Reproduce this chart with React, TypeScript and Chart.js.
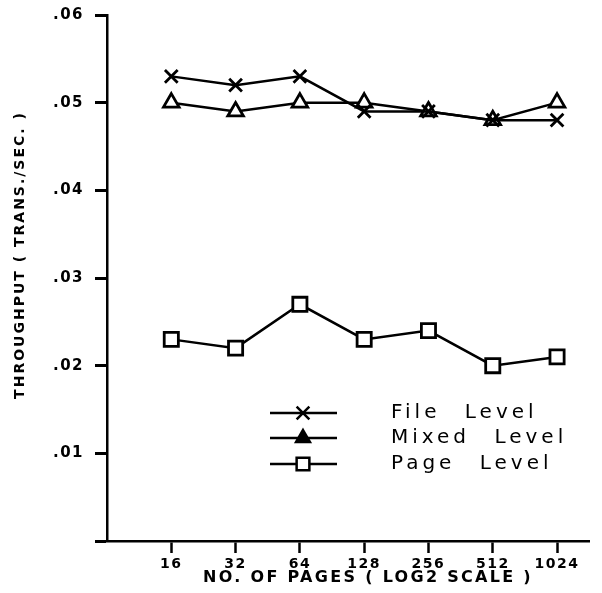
import React, { useEffect, useRef } from 'react';
import { Chart, registerables } from 'chart.js';

Chart.register(...registerables);

const pages = ['16', '32', '64', '128', '256', '512', '1024'];
const fileLevel = [0.053, 0.052, 0.053, 0.049, 0.049, 0.048, 0.048];
const mixedLevel = [0.05, 0.049, 0.05, 0.05, 0.049, 0.048, 0.05];
const pageLevel = [0.023, 0.022, 0.027, 0.023, 0.024, 0.02, 0.021];
const yTickValues = [0, 0.01, 0.02, 0.03, 0.04, 0.05, 0.06];
const seriesNames = ['File Level', 'Mixed Level', 'Page Level'];
const xTitle = 'NO. OF PAGES ( LOG2 SCALE )';
const yTitle = 'THROUGHPUT ( TRANS./SEC. )';

function drawMarker(ctx: CanvasRenderingContext2D, style: string, x: number, y: number, r: number, fill: boolean) {
  ctx.beginPath();
  if (style === 'crossRot') {
    const o = r * Math.SQRT1_2;
    ctx.moveTo(x - o, y - o); ctx.lineTo(x + o, y + o);
    ctx.moveTo(x - o, y + o); ctx.lineTo(x + o, y - o);
    ctx.stroke();
  } else if (style === 'triangle') {
    const h = r * 1.5;
    const w = r * Math.sqrt(3) / 2;
    ctx.moveTo(x, y - r);
    ctx.lineTo(x + w, y - r + h);
    ctx.lineTo(x - w, y - r + h);
    ctx.closePath();
    if (fill) { ctx.fillStyle = '#000'; ctx.fill(); }
    ctx.stroke();
  } else {
    const s = r * Math.SQRT1_2;
    ctx.rect(x - s, y - s, 2 * s, 2 * s);
    ctx.fillStyle = '#fff';
    ctx.fill();
    ctx.stroke();
  }
}

const textPlugin = {
  id: 'textPlugin',
  beforeDraw(chart: any) {
    const ctx = chart.ctx as any;
    ctx.fillStyle = '#fff';
    ctx.fillRect(0, 0, chart.width, chart.height);
    ctx.letterSpacing = '1.5px';
  },
  afterDraw(chart: any) {
    const ctx = chart.ctx as any;
    const area = chart.chartArea;
    ctx.save();
    ctx.fillStyle = '#000';
    ctx.strokeStyle = '#000';
    // axis titles
    ctx.letterSpacing = '2.3px';
    ctx.font = 'bold 16px "DejaVu Sans"';
    ctx.textAlign = 'center';
    ctx.textBaseline = 'middle';
    ctx.fillText(xTitle, area.left + 261, area.bottom + 37);
    ctx.save();
    ctx.translate(20, area.top + 240);
    ctx.rotate(-Math.PI / 2);
    ctx.letterSpacing = '2px';
    ctx.font = 'bold 14px "DejaVu Sans"';
    ctx.fillText(yTitle, 0, 0);
    ctx.restore();
    // legend
    const styles = ['crossRot', 'triangle', 'rect'];
    const radii = [9, 8, 9];
    const rowsY = [413, 438, 464];
    ctx.letterSpacing = '4px';
    ctx.wordSpacing = '14px';
    ctx.font = '20px "DejaVu Sans"';
    ctx.textAlign = 'left';
    seriesNames.forEach((name, i) => {
      const y = rowsY[i];
      ctx.lineWidth = 2.5;
      ctx.beginPath();
      ctx.moveTo(area.left + 163, y);
      ctx.lineTo(area.left + 230, y);
      ctx.stroke();
      ctx.lineWidth = 2.5;
      drawMarker(ctx, styles[i], area.left + 196, y, radii[i], true);
      ctx.fillStyle = '#000';
      ctx.fillText(name, area.left + 284, y);
    });
    ctx.restore();
    ctx.letterSpacing = '0px';
  },
};

export default function App() {
  const ref = useRef<HTMLCanvasElement>(null);
  useEffect(() => {
    document.body.style.margin = '0';
    const toXY = (arr: number[]) => arr.map((v, i) => ({ x: i, y: v }));
    const common = { borderColor: '#000', pointBorderColor: '#000', borderWidth: 2.5, pointBorderWidth: 2.8, tension: 0 };
    const chart = new Chart(ref.current!, {
      type: 'line',
      data: {
        datasets: [
          { ...common, label: seriesNames[0], data: toXY(fileLevel), pointStyle: 'crossRot', pointRadius: 9, pointBackgroundColor: '#fff' },
          { ...common, label: seriesNames[1], data: toXY(mixedLevel), pointStyle: 'triangle', pointRadius: 9, pointBackgroundColor: '#fff' },
          { ...common, label: seriesNames[2], data: toXY(pageLevel), pointStyle: 'rect', pointRadius: 10, pointBackgroundColor: '#fff' },
        ],
      },
      options: {
        animation: false,
        responsive: false,
        events: [],
        layout: { padding: { top: 15, right: 4, left: 0, bottom: 0 } },
        plugins: { legend: { display: false }, tooltip: { enabled: false } },
        scales: {
          x: {
            type: 'linear',
            min: -1,
            max: 6.5,
            afterBuildTicks: (scale: any) => { scale.ticks = pages.map((_, i) => ({ value: i })); },
            afterFit: (scale: any) => { scale.height = 52; scale.paddingLeft = 0; scale.paddingRight = 0; },
            grid: { drawOnChartArea: false, drawTicks: true, tickLength: 12, tickWidth: 2.5, tickColor: '#000' },
            border: { display: true, color: '#000', width: 2.5 },
            ticks: {
              autoSkip: false,
              maxRotation: 0,
              padding: 3,
              color: '#000',
              font: { family: 'DejaVu Sans', size: 14, weight: 'bold' },
              callback: (v: any) => pages[v as number] ?? '',
            },
          },
          y: {
            type: 'linear',
            min: 0,
            max: 0.06,
            afterBuildTicks: (scale: any) => { scale.ticks = yTickValues.map((v) => ({ value: v })); },
            afterFit: (scale: any) => { scale.width = 107; scale.paddingTop = 0; scale.paddingBottom = 0; },
            grid: { drawOnChartArea: false, drawTicks: true, tickLength: 12, tickWidth: 3, tickColor: '#000' },
            border: { display: true, color: '#000', width: 2.5 },
            ticks: {
              padding: 11,
              color: '#000',
              font: { family: 'DejaVu Sans', size: 15, weight: 'bold' },
              callback: (v: any) => (v === 0 ? '' : '.' + String(Math.round(v * 100)).padStart(2, '0')),
            },
          },
        },
      },
      plugins: [textPlugin],
    } as any);
    return () => chart.destroy();
  }, []);
  return (
    <div style={{ width: 602, height: 593 }}>
      <canvas ref={ref} width={602} height={593} style={{ display: 'block' }} />
    </div>
  );
}
